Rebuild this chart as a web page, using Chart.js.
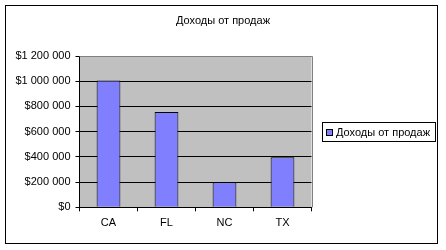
<!DOCTYPE html>
<html>
<head>
<meta charset="utf-8">
<script src="https://cdn.jsdelivr.net/npm/chart.js@4/dist/chart.umd.min.js"></script>
<style>
  html, body { margin:0; padding:0; background:#fff; }
  #wrap { width:446px; height:250px; }
</style>
</head>
<body>
<div id="wrap"><canvas id="myChart" width="446" height="250"></canvas></div>
<script>
var chartTitle = "Доходы от продаж";
var seriesName = "Доходы от продаж";
var states = ["CA", "FL", "NC", "TX"];
var revenue = [1005000, 755000, 198000, 397000];
var yTicks = [0, 200000, 400000, 600000, 800000, 1000000, 1200000];

var FONT = "'Liberation Sans', Arial, sans-serif";
Chart.defaults.font.family = FONT;
Chart.defaults.font.size = 11;
Chart.defaults.color = "#000";

function money(v){
    return "$" + String(v).replace(/\B(?=(\d{3})+(?!\d))/g, " ");
}

// grey plot area, frame, title over the whole sheet and the boxed legend
var excelLook = {
    id: "excelLook",
    beforeDraw: function(chart){
        var c = chart.ctx, a = chart.chartArea;
        c.save();
        c.fillStyle = "#fff";
        c.fillRect(0, 0, chart.width, chart.height);
        c.fillStyle = "#C0C0C0";
        c.fillRect(a.left, a.top, a.right - a.left, a.bottom - a.top);
        c.restore();
    },
    afterDraw: function(chart){
        var c = chart.ctx, a = chart.chartArea;
        c.save();
        c.lineWidth = 1;
        c.strokeStyle = "#808080";
        c.beginPath();
        c.moveTo(a.left, Math.round(a.top) + 0.5);
        c.lineTo(Math.round(a.right) + 0.5, Math.round(a.top) + 0.5);
        c.lineTo(Math.round(a.right) + 0.5, a.bottom);
        c.stroke();

        c.strokeStyle = "#000";
        c.strokeRect(5.5, 5.5, 432, 238);

        c.font = "11px " + FONT;
        c.fillStyle = "#000";
        c.textBaseline = "middle";
        c.textAlign = "center";
        c.fillText(chartTitle, 223, 21);

        // legend
        var ds = chart.data.datasets[0];
        c.strokeRect(322.5, 122.5, 113, 19);
        c.fillStyle = ds.backgroundColor;
        c.fillRect(326.5, 129.5, 6, 6);
        c.strokeRect(326.5, 129.5, 6, 6);
        c.fillStyle = "#000";
        c.textAlign = "left";
        c.fillText(ds.label, 336, 132.5);
        c.restore();
    }
};

var ctx = document.getElementById("myChart").getContext("2d");
var myChart = new Chart(ctx, {
    type: "bar",
    data: {
        labels: states,
        datasets: [{
            label: seriesName,
            data: revenue,
            backgroundColor: "#8080FF",
            borderColor: "#000",
            borderWidth: 1,
            borderSkipped: "bottom",
            categoryPercentage: 1,
            barPercentage: 0.41
        }]
    },
    options: {
        responsive: false,
        animation: false,
        layout: { padding: { left: 0, right: 134.5, top: 56, bottom: 0 } },
        plugins: {
            legend: { display: false },
            tooltip: { enabled: false },
            title: { display: false }
        },
        scales: {
            x: {
                grid: {
                    drawOnChartArea: false,
                    color: "#000",
                    tickLength: 4,
                    tickColor: "#000"
                },
                border: { color: "#000", width: 1 },
                ticks: { padding: 5, color: "#000", maxRotation: 0 },
                afterFit: function(scale){ scale.height = 42.7; }
            },
            y: {
                min: 0,
                max: 1200000,
                afterBuildTicks: function(scale){
                    scale.ticks = yTicks.map(function(v){ return { value: v }; });
                },
                grid: {
                    color: function(c){ return c.tick && c.tick.value === 1200000 ? "#808080" : "#000"; },
                    tickLength: 4,
                    tickColor: "#000"
                },
                border: { color: "#000", width: 1 },
                ticks: {
                    padding: 5,
                    color: "#000",
                    callback: function(v){ return money(v); }
                },
                afterFit: function(scale){ scale.width = 79.5; }
            }
        }
    },
    plugins: [excelLook]
});
</script>
</body>
</html>
